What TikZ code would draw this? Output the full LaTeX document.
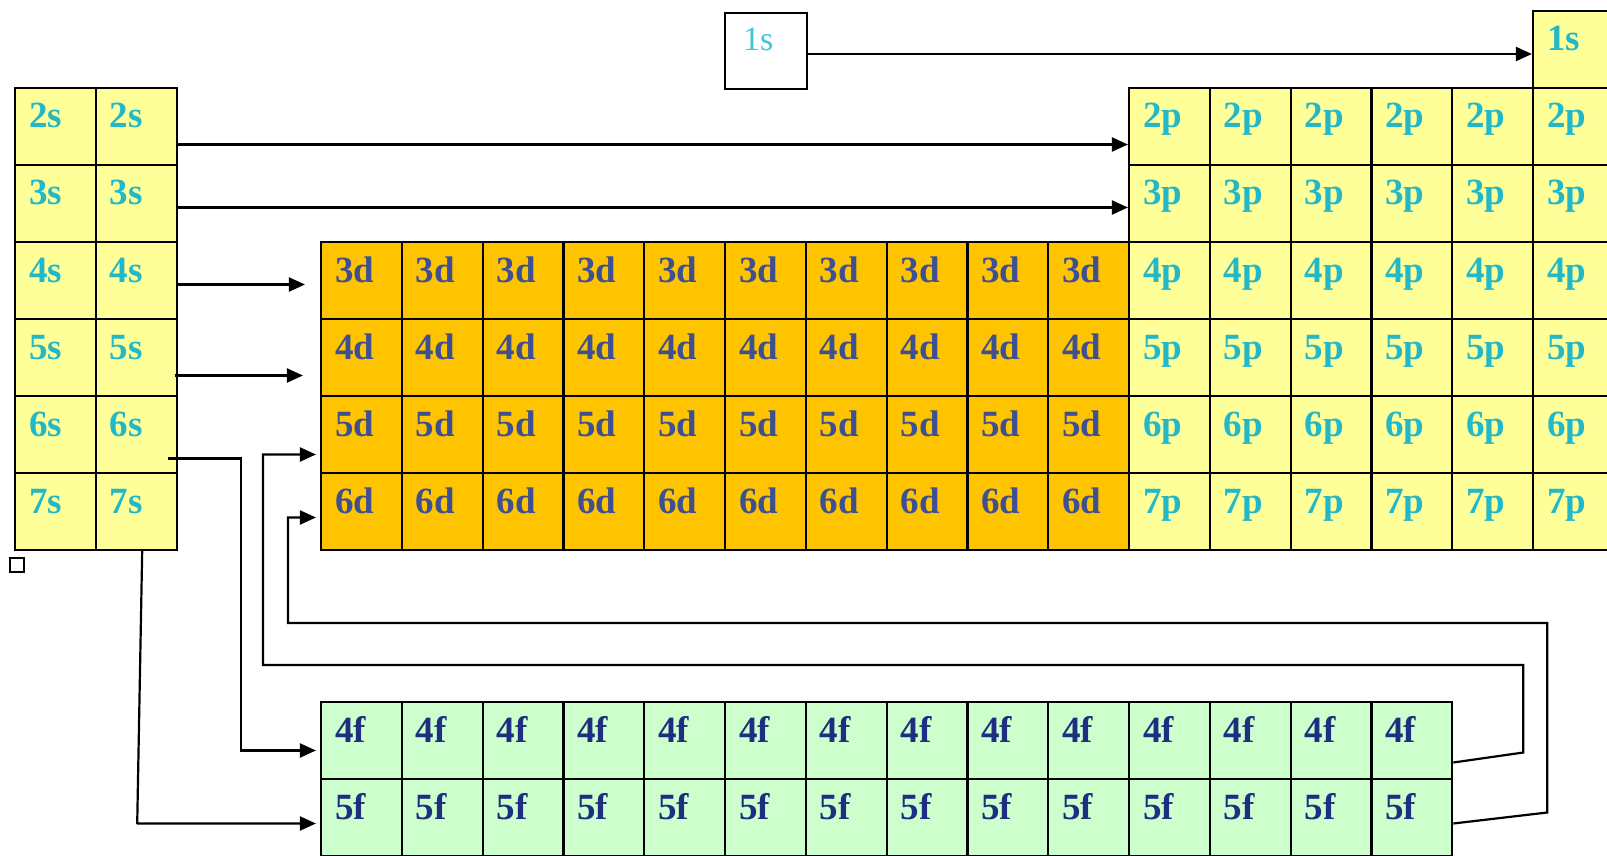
\documentclass[tikz,border=0pt]{standalone}
\usepackage{fontspec}
\setmainfont{Liberation Serif}
\usetikzlibrary{arrows.meta,positioning,calc}
\definecolor{sYellow}{HTML}{FFFF99}
\definecolor{dGold}{HTML}{FFC400}
\definecolor{fGreen}{HTML}{CCFFCC}
\definecolor{sCyan}{HTML}{22B8C8}
\definecolor{sLight}{HTML}{3CC8D8}
\definecolor{dSlate}{HTML}{3E5090}
\definecolor{fNavy}{HTML}{1E2E80}
\begin{document}
\begin{tikzpicture}[x=0.5pt,y=-0.5pt,
  cell/.style={draw,line width=1.1pt,minimum width=40.4pt,minimum height=38.5pt,inner xsep=7pt,inner ysep=0pt,
    text width=26.4pt,align=left,text height=20pt,text depth=18.5pt,font=\fontsize{18.5}{22}\selectfont\bfseries},
  scell/.style={cell,fill=sYellow,text=sCyan},
  dcell/.style={cell,fill=dGold,text=dSlate},
  fcell/.style={cell,fill=fGreen,text=fNavy},
  lone/.style={draw,line width=1.1pt,fill=white,minimum width=41pt,minimum height=38pt,inner xsep=9pt,inner ysep=0pt,
    text width=23pt,align=left,text height=19pt,text depth=19pt,text=sLight,font=\fontsize{17}{20}\selectfont},
  arr/.style={-{Triangle[length=8pt,width=7pt]},line width=1.1pt}]
  \clip (0,0) rectangle (1607,856);
  \foreach \n in {2,...,7}{
    \foreach \c in {1,2}
      \node[scell] (s-\n-\c) at ({15+(\c-0.5)*80.8},{88+(\n-1.5)*77}) {\n s};
    \foreach \c in {1,...,6}
      \node[scell] (p-\n-\c) at ({1129+(\c-0.5)*80.8},{88+(\n-1.5)*77}) {\n p};
  }
  \foreach \n in {3,...,6}
    \foreach \c in {1,...,10}
      \node[dcell] (d-\n-\c) at ({321+(\c-0.5)*80.8},{242+(\n-2.5)*77}) {\n d};
  \foreach \n in {4,5}
    \foreach \c in {1,...,14}
      \node[fcell] (f-\n-\c) at ({321+(\c-0.5)*80.8},{702+(\n-3.5)*77}) {\n f};
  \node[scell] (p-1-6) at ({1129+5.5*80.8},{88-0.5*77}) {1s};
  \node[lone] (s-1) at (766,51) {1s};
  \node[draw,line width=0.6pt,minimum size=7pt,inner sep=0pt] (blank) at (17,565) {};
  \draw[arr] ([yshift=-1.5pt]s-1.east) -- ([yshift=-1.5pt]s-1.east -| p-1-6.west);
  \draw[arr] ([yshift=-9pt]s-2-2.east) -- ([yshift=-9pt]p-2-1.west);
  \draw[arr] ([yshift=-2pt]s-3-2.east) -- ([yshift=-2pt]p-3-1.west);
  \draw[arr,shorten >=7.5pt] ([yshift=-2pt]s-4-2.east) -- ([yshift=-2pt]d-3-1.west);
  \draw[arr,shorten >=8.5pt] ([xshift=-1.5pt,yshift=-9pt]s-5-2.east) -- ([yshift=-9pt]d-4-1.west);
  \draw[arr,shorten >=2pt] ([xshift=-5pt,yshift=-12pt]s-6-2.east) -- ++(73,0) |- ([yshift=-5pt]f-4-1.west);
  \draw[arr,shorten >=2pt] ([xshift=3pt]s-7-2.south) -- ++(-5,273) |- ([yshift=-3pt]f-5-1.west);
  \coordinate (turn5d) at (263,665);
  \coordinate (turn6d) at (288,623);
  \draw[arr,shorten >=2pt] ([yshift=-11pt]f-4-14.east) -- ++(70,-10) |- (turn5d) |- ([yshift=-10pt]d-5-1.west);
  \draw[arr,shorten >=2pt] ([yshift=-3pt]f-5-14.east) -- ++(94,-11) |- (turn6d) |- ([yshift=-3pt]d-6-1.west);
\end{tikzpicture}
\end{document}
